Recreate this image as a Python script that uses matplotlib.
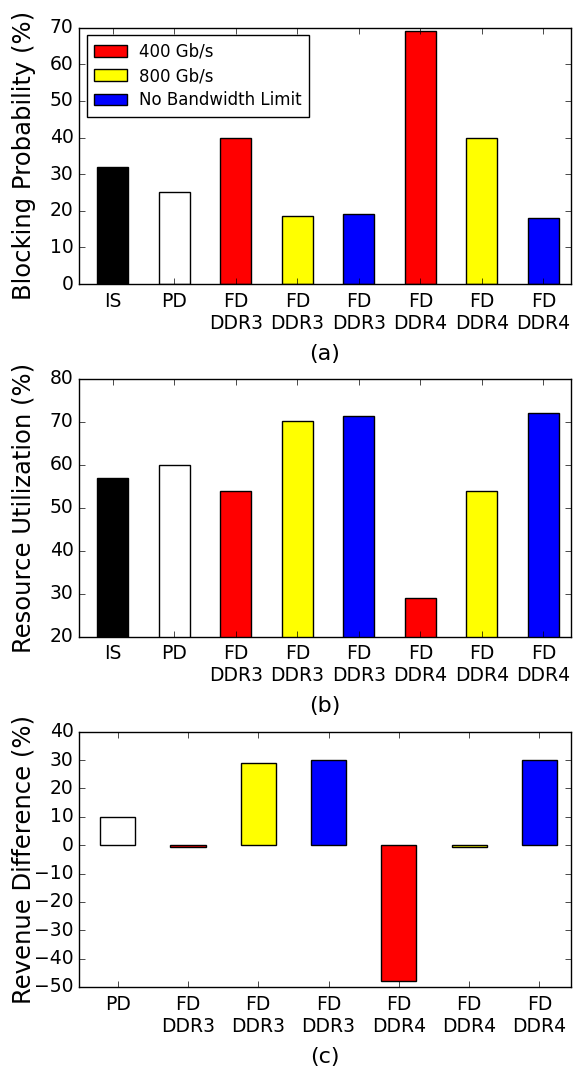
import matplotlib
matplotlib.use("Agg")
import matplotlib.pyplot as plt

plt.style.use("classic")
plt.rcParams["font.family"] = ["DejaVu Sans"]
plt.rcParams["figure.facecolor"] = "white"
plt.rcParams["savefig.facecolor"] = "white"

# ---- data ----
labels_ab = ["IS", "PD", "FD\nDDR3", "FD\nDDR3", "FD\nDDR3", "FD\nDDR4", "FD\nDDR4", "FD\nDDR4"]
colors_ab = ["black", "white", "red", "yellow", "blue", "red", "yellow", "blue"]
blocking = [32, 25, 40, 18.7, 19, 69, 40, 18]
utilization = [57, 60, 54, 70.3, 71.4, 29, 54, 72]

labels_c = ["PD", "FD\nDDR3", "FD\nDDR3", "FD\nDDR3", "FD\nDDR4", "FD\nDDR4", "FD\nDDR4"]
colors_c = ["white", "red", "yellow", "blue", "red", "yellow", "blue"]
revenue = [10, -0.8, 29, 30, -48, -0.8, 30]

legend_labels = ["400 Gb/s", "800 Gb/s", "No Bandwidth Limit"]
legend_colors = ["red", "yellow", "blue"]

W, H = 574, 1070
fig = plt.figure(figsize=(W / 100, H / 100), dpi=100)

def ax_at(left, top, right, bottom):
    return fig.add_axes([left / W, 1 - bottom / H, (right - left) / W, (bottom - top) / H])

def style(ax, labels, ylabel, xlabel):
    ax.set_xticks(range(len(labels)))
    ax.set_xticklabels(labels, fontsize=13.5)
    ax.set_xlim(-0.55, len(labels) - 0.55)
    ax.tick_params(axis="both", labelsize=13.5)
    ax.tick_params(axis="x", pad=5.5)
    ax.set_ylabel(ylabel, fontsize=17.5)
    ax.set_xlabel(xlabel, fontsize=16, labelpad=8)
    ax.yaxis.set_label_coords(-0.088, 0.5)

L, R = 79, 571

# (a)
axa = ax_at(L, 27.7, R, 284)
axa.bar(range(len(blocking)), blocking, width=0.5, color=colors_ab,
        edgecolor="black", linewidth=1, align="center")
axa.set_ylim(0, 70)
axa.set_yticks(range(0, 71, 10))
style(axa, labels_ab, "Blocking Probability (%)", "(a)")
handles = [plt.Rectangle((0, 0), 1, 1, facecolor=c, edgecolor="black") for c in legend_colors]
axa.legend(handles, legend_labels, loc="upper left", fontsize=12, frameon=True,
           fancybox=False, borderaxespad=0.45, borderpad=0.45, handlelength=2.0,
           handletextpad=0.7, labelspacing=0.38)

# (b)
axb = ax_at(L, 379, R, 636.7)
axb.bar(range(len(utilization)), utilization, width=0.5, color=colors_ab,
        edgecolor="black", linewidth=1, align="center")
axb.set_ylim(20, 80)
axb.set_yticks(range(20, 81, 10))
style(axb, labels_ab, "Resource Utilization (%)", "(b)")

# (c)
axc = ax_at(L, 731.7, R, 987)
axc.bar(range(len(revenue)), revenue, width=0.5, color=colors_c,
        edgecolor="black", linewidth=1, align="center")
axc.set_ylim(-50, 40)
axc.set_yticks(range(-50, 41, 10))
style(axc, labels_c, "Revenue Difference (%)", "(c)")

fig.savefig("out.png", dpi=100)
